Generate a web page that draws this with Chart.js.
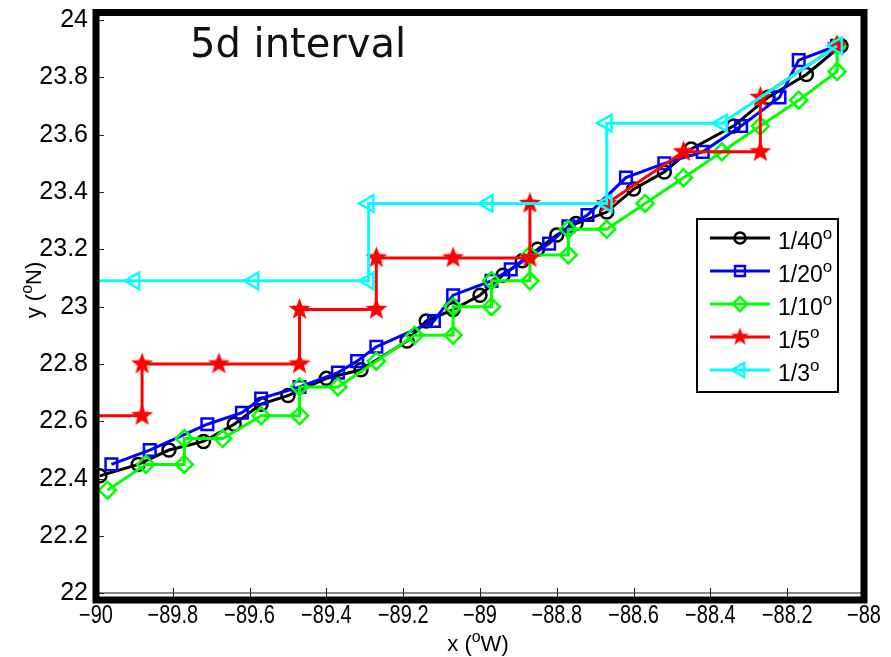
<!DOCTYPE html>
<html>
<head>
<meta charset="utf-8">
<script src="https://cdn.jsdelivr.net/npm/chart.js@4.4.1/dist/chart.umd.min.js"></script>
<style>
  html, body { margin: 0; padding: 0; background: #fff; }
  #wrap { width: 891px; height: 657px; position: relative; }
</style>
</head>
<body>
<div id="wrap"><canvas id="trackChart" width="891" height="657"></canvas></div>
<script>
// axis ticks
const xTicks = [-90, -89.8, -89.6, -89.4, -89.2, -89, -88.8, -88.6, -88.4, -88.2, -88];
const yTicks = [22, 22.2, 22.4, 22.6, 22.8, 23, 23.2, 23.4, 23.6, 23.8, 24];

// legend labels (resolution, degrees)
const resLabels = ['1/40', '1/20', '1/10', '1/5', '1/3'];

// track positions, 5 day interval
const lon40 = [-89.99, -89.89, -89.81, -89.72, -89.64, -89.57, -89.50, -89.40, -89.31, -89.19, -89.14, -89.07, -89.00,
               -88.94, -88.89, -88.85, -88.80, -88.75, -88.67, -88.60, -88.52, -88.45, -88.34, -88.25, -88.15, -88.06];
const lat40 = [22.41, 22.45, 22.50, 22.53, 22.59, 22.66, 22.69, 22.75, 22.78, 22.88, 22.95, 22.99, 23.04,
               23.11, 23.16, 23.20, 23.25, 23.29, 23.33, 23.41, 23.47, 23.55, 23.63, 23.73, 23.81, 23.91];

const lon20 = [-89.96, -89.86, -89.71, -89.62, -89.57, -89.47, -89.37, -89.32, -89.27, -89.12, -89.07, -88.97,
               -88.92, -88.82, -88.77, -88.72, -88.62, -88.52, -88.42, -88.32, -88.22, -88.17, -88.07];
const lat20 = [22.45, 22.50, 22.59, 22.63, 22.68, 22.72, 22.77, 22.81, 22.86, 22.95, 23.04, 23.09,
               23.13, 23.22, 23.28, 23.32, 23.45, 23.50, 23.54, 23.63, 23.73, 23.86, 23.91];

const lon10 = [-89.97, -89.87, -89.77, -89.77, -89.67, -89.57, -89.47, -89.47, -89.37, -89.27, -89.17, -89.07, -89.07, -88.97,
               -88.97, -88.87, -88.87, -88.77, -88.77, -88.67, -88.57, -88.47, -88.37, -88.27, -88.17, -88.07, -88.07];
const lat10 = [22.36, 22.45, 22.45, 22.54, 22.54, 22.62, 22.62, 22.72, 22.72, 22.81, 22.90, 22.90, 23.00, 23.00,
               23.09, 23.09, 23.18, 23.18, 23.27, 23.27, 23.36, 23.45, 23.54, 23.63, 23.72, 23.82, 23.91];

const lon5 = [-90.08, -89.88, -89.88, -89.68, -89.47, -89.47, -89.27, -89.27, -89.07, -88.87, -88.87, -88.67, -88.47, -88.27, -88.27, -88.07];
const lat5 = [22.62, 22.62, 22.80, 22.80, 22.80, 22.99, 22.99, 23.17, 23.17, 23.17, 23.36, 23.36, 23.54, 23.54, 23.73, 23.91];

const lon3 = [-90.17, -89.90, -89.59, -89.29, -89.29, -88.98, -88.67, -88.67, -88.37, -88.07];
const lat3 = [23.09, 23.09, 23.09, 23.09, 23.36, 23.36, 23.36, 23.64, 23.64, 23.91];

function track(lon, lat) {
    return lon.map((x, i) => ({ x: x, y: lat[i] }));
}

function makeStar(size, color) {
    const c = document.createElement('canvas');
    c.width = c.height = size;
    const g = c.getContext('2d');
    const ro = size / 2 - 1, ri = ro * 0.42;
    g.beginPath();
    for (let i = 0; i < 10; i++) {
        const r = i % 2 ? ri : ro;
        const a = -Math.PI / 2 + i * Math.PI / 5;
        g.lineTo(size / 2 + r * Math.cos(a), size / 2 + r * Math.sin(a));
    }
    g.closePath();
    g.fillStyle = color;
    g.fill();
    return c;
}

const redStar = makeStar(25, '#ff0000');
const legendStar = makeStar(21, '#ff0000');

const seriesStyle = [
    { color: '#000000', pointStyle: 'circle', radius: 6.5, rotation: 0 },
    { color: '#0000ff', pointStyle: 'rect', radius: 8.2, rotation: 0 },
    { color: '#00ff00', pointStyle: 'rectRot', radius: 8.5, rotation: 0 },
    { color: '#ff0000', pointStyle: redStar, radius: 10, rotation: 0 },
    { color: '#00ffff', pointStyle: 'triangle', radius: 9.5, rotation: -90 }
];

const tracks = [track(lon40, lat40), track(lon20, lat20), track(lon10, lat10), track(lon5, lat5), track(lon3, lat3)];

const datasets = tracks.map((pts, i) => ({
    label: resLabels[i],
    data: pts,
    showLine: true,
    borderColor: seriesStyle[i].color,
    borderWidth: 3,
    pointStyle: seriesStyle[i].pointStyle,
    pointRadius: seriesStyle[i].radius,
    pointHoverRadius: seriesStyle[i].radius,
    pointRotation: seriesStyle[i].rotation,
    pointBorderWidth: 2.5,
    pointBorderColor: seriesStyle[i].color,
    pointBackgroundColor: 'rgba(0,0,0,0)',
    order: tracks.length - 1 - i
}));

const fmtTick = v => Number(v.toFixed(1)).toString().replace('-', '\u2212');
const SANS = "'Liberation Sans', Arial, sans-serif";

// text with a raised "o" (degree mark as MATLAB draws it)
function supText(ctx, before, after, x, y, size, family, align) {
    const supSize = Math.round(size * 0.72);
    ctx.font = size + 'px ' + family;
    const w1 = ctx.measureText(before).width;
    const w3 = ctx.measureText(after).width;
    ctx.font = supSize + 'px ' + family;
    const w2 = ctx.measureText('o').width;
    let x0 = x;
    if (align === 'center') x0 = x - (w1 + w2 + w3) / 2;
    ctx.textAlign = 'left';
    ctx.textBaseline = 'alphabetic';
    ctx.font = size + 'px ' + family;
    ctx.fillText(before, x0, y);
    ctx.font = supSize + 'px ' + family;
    ctx.fillText('o', x0 + w1, y - size * 0.42);
    ctx.font = size + 'px ' + family;
    ctx.fillText(after, x0 + w1 + w2, y);
}

const noPad = s => { s.paddingLeft = 0; s.paddingRight = 0; s.paddingTop = 0; s.paddingBottom = 0; };

const decor = {
    id: 'decor',
    afterDatasetsDraw(chart) {
        const { ctx, chartArea: a, scales } = chart;
        const xs = scales.x, ys = scales.y;
        const H = Chart.helpers;
        ctx.save();

        // legend box
        const lx = 697, ly = 219, lw = 141, lh = 173;
        ctx.fillStyle = '#fff';
        ctx.fillRect(lx, ly, lw, lh);
        ctx.strokeStyle = '#000';
        ctx.lineWidth = 2;
        ctx.strokeRect(lx, ly, lw, lh);
        resLabels.forEach((lab, i) => {
            const yy = 238 + i * 33;
            const st = seriesStyle[i];
            ctx.strokeStyle = st.color;
            ctx.lineWidth = 3;
            ctx.beginPath();
            ctx.moveTo(710, yy);
            ctx.lineTo(770, yy);
            ctx.stroke();
            ctx.lineWidth = 2.5;
            ctx.fillStyle = 'rgba(0,0,0,0)';
            const ps = i === 3 ? legendStar : st.pointStyle;
            H.drawPoint(ctx, { pointStyle: ps, radius: st.radius * 0.85, rotation: st.rotation, borderWidth: 2.5 }, 740, yy);
            ctx.fillStyle = '#000';
            supText(ctx, lab, '', 778, yy + 11, 23, SANS, 'left');
        });

        // inward tick marks
        ctx.strokeStyle = '#222';
        ctx.lineWidth = 1;
        ctx.beginPath();
        xTicks.forEach(v => {
            const px = Math.round(xs.getPixelForValue(v)) + 0.5;
            ctx.moveTo(px, a.bottom - 3);
            ctx.lineTo(px, a.bottom - 12);
        });
        yTicks.forEach(v => {
            const py = Math.round(ys.getPixelForValue(v)) + 0.5;
            ctx.moveTo(a.left + 3, py);
            ctx.lineTo(a.left + 8, py);
        });
        ctx.stroke();

        // heavy box
        ctx.strokeStyle = '#000';
        ctx.lineWidth = 7;
        ctx.strokeRect(a.left, a.top, a.right - a.left, a.bottom - a.top);
        ctx.restore();
    },
    afterDraw(chart) {
        const ctx = chart.ctx;
        const xs = chart.scales.x;
        ctx.save();

        // x tick labels, narrow face as in the original figure
        ctx.fillStyle = '#000';
        ctx.font = '25px ' + SANS;
        ctx.textAlign = 'center';
        ctx.textBaseline = 'alphabetic';
        xTicks.forEach(v => {
            const px = xs.getPixelForValue(v);
            ctx.save();
            ctx.translate(px, 623);
            ctx.scale(0.8, 1);
            ctx.fillText(fmtTick(v), 0, 0);
            ctx.restore();
        });

        ctx.fillStyle = '#111';
        ctx.font = "40px 'DejaVu Sans', sans-serif";
        ctx.textAlign = 'left';
        ctx.fillText('5d interval', 190, 57);

        ctx.fillStyle = '#000';
        supText(ctx, 'x (', 'W)', 478, 651, 22, SANS, 'center');
        ctx.translate(41, 290);
        ctx.rotate(-Math.PI / 2);
        supText(ctx, 'y (', 'N)', 0, 0, 22, SANS, 'center');
        ctx.restore();
    }
};

new Chart(document.getElementById('trackChart'), {
    type: 'scatter',
    data: { datasets: datasets },
    options: {
        responsive: false,
        animation: false,
        events: [],
        layout: { padding: { left: 0, right: 27, top: 6, bottom: 0 } },
        plugins: {
            legend: { display: false },
            tooltip: { enabled: false }
        },
        scales: {
            x: {
                type: 'linear',
                min: -90,
                max: -88,
                afterBuildTicks: s => { s.ticks = xTicks.map(v => ({ value: v })); },
                afterFit: s => { s.height = 57; noPad(s); },
                grid: { display: false, drawTicks: false },
                border: { display: false },
                ticks: {
                    display: false,
                    autoSkip: false,
                    maxRotation: 0,
                    minRotation: 0,
                    callback: v => fmtTick(v)
                }
            },
            y: {
                type: 'linear',
                min: 21.977,
                max: 24.026,
                afterBuildTicks: s => { s.ticks = yTicks.map(v => ({ value: v })); },
                afterFit: s => { s.width = 96; noPad(s); },
                grid: {
                    drawTicks: false,
                    lineWidth: 2,
                    color: c => (c.tick && c.tick.value === 22 ? '#8a8a8a' : 'rgba(0,0,0,0)')
                },
                border: { display: false },
                ticks: {
                    padding: 8,
                    color: '#000',
                    font: { family: SANS, size: 25 },
                    callback: v => fmtTick(v)
                }
            }
        }
    },
    plugins: [decor]
});
</script>
</body>
</html>
